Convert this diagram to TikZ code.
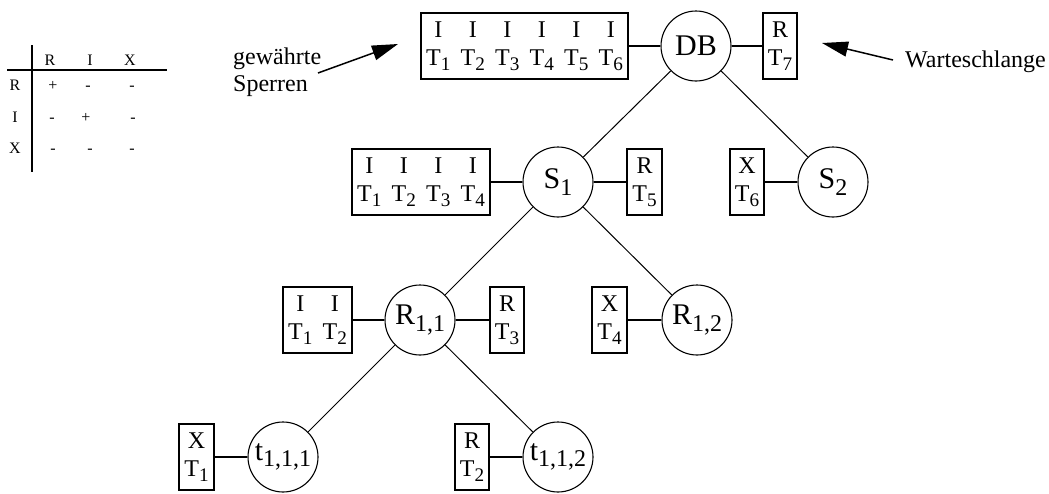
\documentclass[tikz,border=0pt]{standalone}
\usepackage{fontspec}
\setmainfont{Liberation Serif}
\usetikzlibrary{arrows.meta}
% lowered, slightly smaller index
\newcommand\lo[1]{\raisebox{-0.22em}{\scalebox{0.8}{#1}}}
% one lock entry: mode above, transaction below
\newcommand\lc[2]{\makebox[34.5pt]{\begin{tabular}{@{}c@{}}#1\\#2\end{tabular}}}
\tikzset{
  lockbox/.style={draw, line width=2pt, inner sep=0pt, minimum height=66pt,
    font=\fontsize{24}{28}\selectfont},
  obj/.style={draw, circle, line width=1.1pt, inner sep=0pt, minimum size=70pt,
    font=\fontsize{30}{34}\selectfont},
  link/.style={line width=2pt},
  edge/.style={line width=1pt},
  pointer/.style={line width=1.5pt, -{Triangle[length=26pt,width=15pt]}},
  lbl/.style={font=\fontsize{24}{28}\selectfont, inner sep=0pt},
  tab/.style={font=\fontsize{16}{18}\selectfont, inner sep=0pt, anchor=base},
  tabline/.style={line width=1.5pt},
}
\begin{document}
\begin{tikzpicture}[x=1pt, y=-1pt]
\useasboundingbox (0,0) rectangle (1049,493);

% compatibility table
\draw[tabline] (32,45) -- (32,172);
\draw[tabline] (7,70) -- (167,70);
\node[tab] (hr) at (50,65) {R};
\node[tab] (hi) at (90,65) {I};
\node[tab] (hx) at (130,65) {X};
\node[tab] (rr) at (15,90) {R};
\node[tab] (ri) at (15,122) {I};
\node[tab] (rx) at (15,153) {X};
\node[tab] (rr1) at (53,90) {+};
\node[tab] (rr2) at (88,90) {-};
\node[tab] (rr3) at (132,90) {-};
\node[tab] (ri1) at (52,122) {-};
\node[tab] (ri2) at (86,122) {+};
\node[tab] (ri3) at (133,122) {-};
\node[tab] (rx1) at (53,153) {-};
\node[tab] (rx2) at (90,153) {-};
\node[tab] (rx3) at (132,153) {-};

% level 0
\node[lockbox] (l0) at (524.5,46) {\lc{I}{T\lo1}\lc{I}{T\lo2}\lc{I}{T\lo3}\lc{I}{T\lo4}\lc{I}{T\lo5}\lc{I}{T\lo6}};
\node[obj] (db) at (696,46) {DB};
\node[lockbox] (q0) at (780,46) {\lc{R}{T\lo7}};
\draw[link] (l0) -- (db);
\draw[link] (db) -- (q0);

% level 1
\node[lockbox] (l1) at (421,182) {\lc{I}{T\lo1}\lc{I}{T\lo2}\lc{I}{T\lo3}\lc{I}{T\lo4}};
\node[obj] (s1) at (558,182) {S\lo1};
\node[lockbox] (q1) at (644.5,182) {\lc{R}{T\lo5}};
\node[lockbox] (l2) at (747,182) {\lc{X}{T\lo6}};
\node[obj] (s2) at (833,182) {S\lo2};
\draw[link] (l1) -- (s1);
\draw[link] (s1) -- (q1);
\draw[link] (l2) -- (s2);

% level 2
\node[lockbox] (l3) at (317.5,320) {\lc{I}{T\lo1}\lc{I}{T\lo2}};
\node[obj] (r11) at (420,320) {R\lo{1,1}};
\node[lockbox] (q3) at (507,320) {\lc{R}{T\lo3}};
\node[lockbox] (l4) at (609.5,320) {\lc{X}{T\lo4}};
\node[obj] (r12) at (697,320) {R\lo{1,2}};
\draw[link] (l3) -- (r11);
\draw[link] (r11) -- (q3);
\draw[link] (l4) -- (r12);

% level 3
\node[lockbox] (l5) at (196.5,457) {\lc{X}{T\lo1}};
\node[obj] (t111) at (283,457) {t\lo{1,1,1}};
\node[lockbox] (l6) at (472,457) {\lc{R}{T\lo2}};
\node[obj] (t112) at (558,457) {t\lo{1,1,2}};
\draw[link] (l5) -- (t111);
\draw[link] (l6) -- (t112);

% hierarchy
\draw[edge] (db) -- (s1);
\draw[edge] (db) -- (s2);
\draw[edge] (s1) -- (r11);
\draw[edge] (s1) -- (r12);
\draw[edge] (r11) -- (t111);
\draw[edge] (r11) -- (t112);

% annotations
\node[lbl, anchor=base west] (gw) at (233,64) {gewährte};
\node[lbl, anchor=base west] (sp) at (233,91) {Sperren};
\coordinate (ga) at (318,73);
\coordinate (gb) at (398,44);
\draw[pointer] (ga) -- (gb);
\node[lbl, anchor=base west] (ws) at (905,67) {Warteschlange};
\coordinate (wa) at (893,60);
\coordinate (wb) at (822,43);
\draw[pointer] (wa) -- (wb);
\end{tikzpicture}
\end{document}
